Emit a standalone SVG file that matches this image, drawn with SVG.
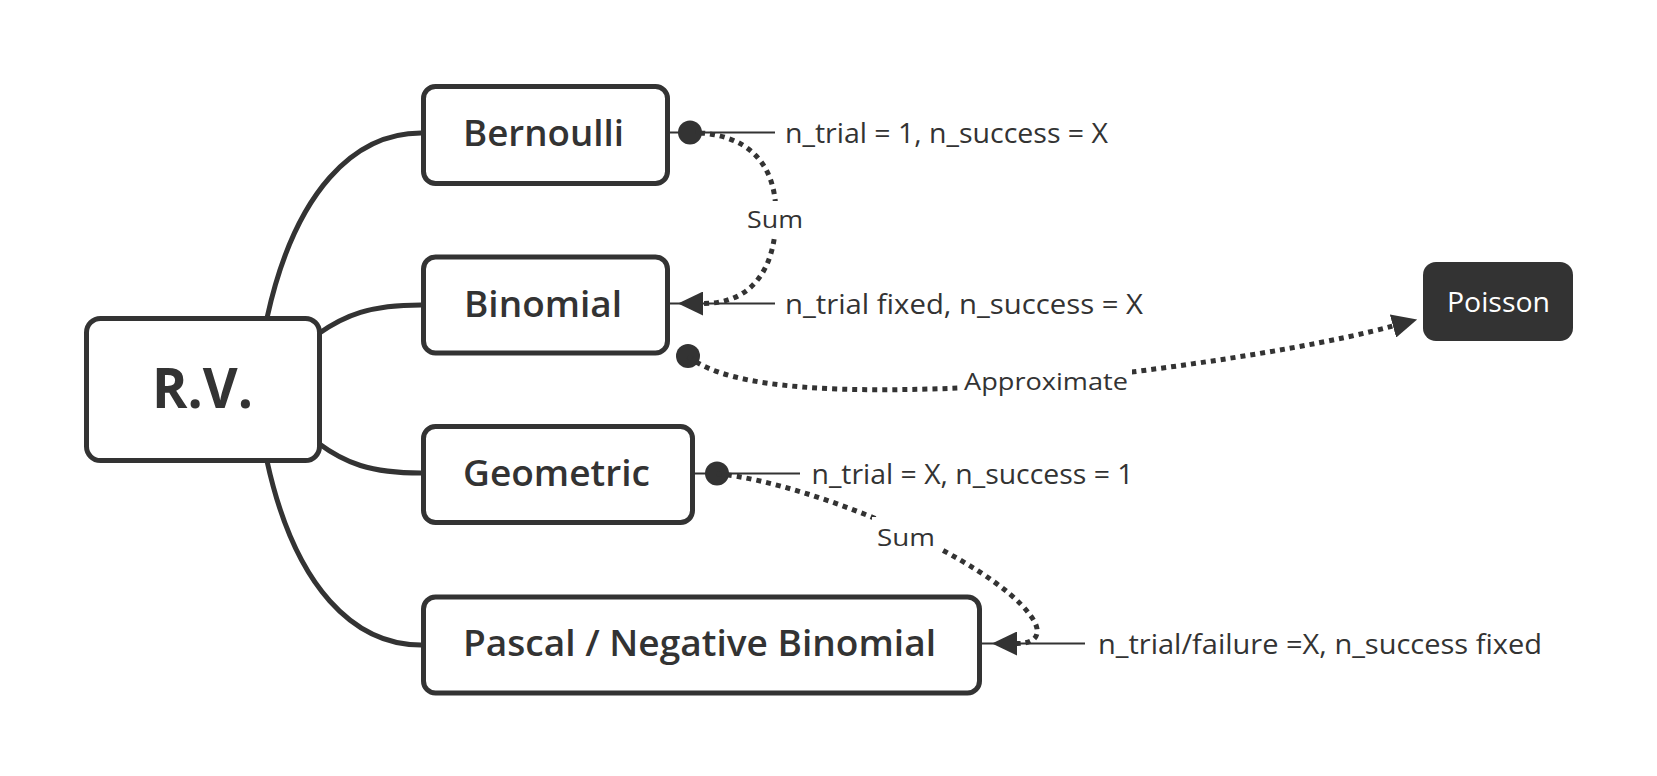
<svg xmlns="http://www.w3.org/2000/svg" width="1657" height="776" viewBox="0 0 1657 776">
<style>
.node{fill:#fff;stroke:#333;stroke-width:5}
.branch{fill:none;stroke:#333;stroke-width:5;stroke-linecap:round}
.thin{fill:none;stroke:#333;stroke-width:1.8}
.dotted{fill:none;stroke:#333;stroke-width:5;stroke-dasharray:5 5}
.title{font-family:"Open Sans","Liberation Sans",sans-serif;fill:#333;font-weight:600;font-size:36px}
.rv{font-family:"Open Sans","Liberation Sans",sans-serif;fill:#333;font-weight:700;font-size:56px}
.txt{font-family:"Open Sans","Liberation Sans",sans-serif;fill:#333;font-size:28px}
.lbl{font-family:"Open Sans","Liberation Sans",sans-serif;fill:#333;font-size:23px}
.dot{fill:#333}
</style>
<defs>
<marker id="arrow" markerUnits="userSpaceOnUse" markerWidth="25" markerHeight="24" viewBox="0 0 25 24" refX="0" refY="12" orient="auto">
<path d="M0,0 L25,12 L0,24 Z" fill="#333"/>
</marker>
</defs>
<rect width="1657" height="776" fill="#fff"/>
<g id="connectors">
<path class="branch" d="M267,318 C295,190 355,133 421,133"/>
<path class="branch" d="M318,334 C345,315 370,305 421,305"/>
<path class="branch" d="M318,443 C345,463 370,473 421,473"/>
<path class="branch" d="M267,461 C295,589 355,645 421,645"/>
<line class="thin" x1="670" y1="132.5" x2="775" y2="132.5"/>
<line class="thin" x1="670" y1="303.5" x2="775" y2="303.5"/>
<line class="thin" x1="695" y1="473.5" x2="800" y2="473.5"/>
<line class="thin" x1="982" y1="643.5" x2="1085" y2="643.5"/>
<circle class="dot" cx="690" cy="132.5" r="12"/>
<circle class="dot" cx="717" cy="473.5" r="12"/>
<circle class="dot" cx="688" cy="356" r="12"/>
<path class="dotted" d="M690,132.5 C750,133 776,165 776,215 C776,265 755,303.5 703,303.5" marker-end="url(#arrow)"/>
<path class="dotted" d="M717,473.5 C820,485 990,560 1030,615 C1042,630 1040,643.5 1017,643.5" marker-end="url(#arrow)"/>
<path class="dotted" d="M688,356 C730,392 860,392 960,388 C1050,385 1283,356 1393,326" marker-end="url(#arrow)"/>
<rect x="745" y="201" width="61" height="36" fill="#fff"/>
<text class="lbl" x="747" y="227.5" textLength="56" lengthAdjust="spacingAndGlyphs">Sum</text>
<rect x="872" y="517" width="70" height="39" fill="#fff"/>
<text class="lbl" x="877" y="546" textLength="58" lengthAdjust="spacingAndGlyphs">Sum</text>
<rect x="961" y="364" width="171" height="32" fill="#fff"/>
<text class="lbl" x="964" y="390" textLength="164" lengthAdjust="spacingAndGlyphs">Approximate</text>
<text class="txt" x="785" y="143" textLength="323" lengthAdjust="spacingAndGlyphs">n_trial = 1, n_success = X</text>
<text class="txt" x="785" y="313.5" textLength="358" lengthAdjust="spacingAndGlyphs">n_trial fixed, n_success = X</text>
<text class="txt" x="811.5" y="483.5" textLength="322" lengthAdjust="spacingAndGlyphs">n_trial = X, n_success = 1</text>
<text class="txt" x="1098" y="653.5" textLength="444" lengthAdjust="spacingAndGlyphs">n_trial/failure =X, n_success fixed</text>
</g>
<g id="node-rv">
<rect class="node" x="86.5" y="318.5" width="233" height="142" rx="14"/>
<text class="rv" x="152" y="408" textLength="101" lengthAdjust="spacingAndGlyphs">R.V.</text>
</g>
<g id="node-bernoulli">
<rect class="node" x="423.5" y="86.5" width="244" height="97" rx="12"/>
<text class="title" x="463" y="145.5" textLength="161" lengthAdjust="spacingAndGlyphs">Bernoulli</text>
</g>
<g id="node-binomial">
<rect class="node" x="423.5" y="257" width="244" height="96" rx="12"/>
<text class="title" x="464" y="316.5" textLength="158" lengthAdjust="spacingAndGlyphs">Binomial</text>
</g>
<g id="node-geometric">
<rect class="node" x="423.5" y="426.5" width="269" height="96" rx="12"/>
<text class="title" x="463" y="486" textLength="187" lengthAdjust="spacingAndGlyphs">Geometric</text>
</g>
<g id="node-pascal">
<rect class="node" x="423.5" y="597" width="556" height="96" rx="12"/>
<text class="title" x="463" y="656" textLength="473" lengthAdjust="spacingAndGlyphs">Pascal / Negative Binomial</text>
</g>
<g id="node-poisson">
<rect x="1423" y="262" width="150" height="79" rx="13" fill="#333"/>
<text class="txt" x="1447" y="311.5" style="fill:#fff" textLength="103" lengthAdjust="spacingAndGlyphs">Poisson</text>
</g>
</svg>
